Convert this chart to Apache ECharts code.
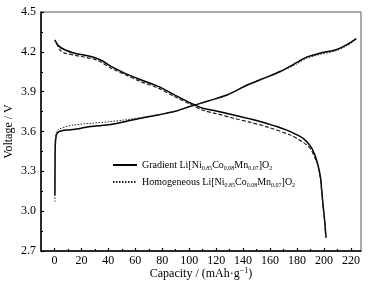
<!DOCTYPE html>
<html>
<head>
<meta charset="utf-8">
<script src="https://cdn.jsdelivr.net/npm/echarts@6/dist/echarts.min.js"></script>
<style>
  html, body { margin: 0; padding: 0; background: #fff; }
  #chart { width: 372px; height: 286px; }
</style>
</head>
<body>
<div id="chart"></div>
<script>
    // [capacity (mAh/g), voltage (V)]
    var gradientCharge = [
        [0.3, 3.12], [0.4, 3.3], [0.5, 3.45], [0.8, 3.53], [1.5, 3.575], [3, 3.598],
        [6, 3.607], [10, 3.612], [15, 3.617], [20, 3.625], [27, 3.637], [35, 3.645],
        [40, 3.65], [52, 3.674], [64, 3.70], [77, 3.725], [89, 3.75], [101, 3.79],
        [114, 3.83], [128, 3.875], [143, 3.95], [155, 4.0], [167, 4.05], [180, 4.12],
        [187, 4.16], [197, 4.19], [209, 4.216], [217, 4.254], [224, 4.30]
    ];
    var homogeneousCharge = [
        [0.3, 3.07], [0.4, 3.3], [0.5, 3.48], [0.8, 3.56], [1.5, 3.595], [3, 3.615],
        [8, 3.635], [15, 3.65], [27, 3.662], [40, 3.673], [52, 3.687], [64, 3.705],
        [77, 3.727], [89, 3.752], [101, 3.79], [114, 3.828], [128, 3.873], [143, 3.947],
        [155, 3.995], [167, 4.045], [180, 4.11], [187, 4.15], [197, 4.18], [209, 4.208],
        [217, 4.245], [224, 4.295]
    ];
    var gradientDischarge = [
        [0.2, 4.29], [3, 4.245], [7.6, 4.216], [15, 4.19], [27, 4.165], [35, 4.135],
        [42, 4.09], [52, 4.04], [64, 3.99], [77, 3.94], [89, 3.876], [101, 3.815],
        [110, 3.775], [120, 3.755], [133, 3.725], [145, 3.695], [157, 3.662], [172, 3.612],
        [180, 3.575], [185, 3.545], [190, 3.49], [193, 3.43], [195.5, 3.35], [197.5, 3.25],
        [198.5, 3.14], [199.5, 3.03], [200.7, 2.91], [201.5, 2.80]
    ];
    var homogeneousDischarge = [
        [1.5, 4.266], [4, 4.215], [7.6, 4.19], [20, 4.165], [32, 4.135], [42, 4.077],
        [52, 4.03], [64, 3.976], [77, 3.927], [89, 3.863], [101, 3.805], [110, 3.76],
        [120, 3.735], [133, 3.70], [145, 3.67], [157, 3.637], [175, 3.574], [182, 3.535],
        [187, 3.50], [190, 3.47], [192.5, 3.42], [195.3, 3.35], [197.3, 3.25], [198.4, 3.14],
        [199.4, 3.03], [200.6, 2.91], [201.4, 2.80]
    ];

    var xMajorTicks = [0, 20, 40, 60, 80, 100, 120, 140, 160, 180, 200, 220];
    var xMinorTicks = [10, 30, 50, 70, 90, 110, 130, 150, 170, 190, 210];

    var legendNames = {
        Gradient: 'Gradient Li[Ni{s|0.85}Co{s|0.08}Mn{s|0.07}]O{s|2}',
        Homogeneous: 'Homogeneous Li[Ni{s|0.85}Co{s|0.08}Mn{s|0.07}]O{s|2}'
    };

    var font = 'Liberation Serif';

    var option = {
        backgroundColor: '#fff',
        animation: false,
        textStyle: { fontFamily: font, color: '#000' },
        grid: {
            left: 41, right: 11, top: 12, bottom: 35,
            outerBoundsMode: 'none',
            show: true,
            borderColor: '#555',
            borderWidth: 1
        },
        legend: {
            orient: 'vertical',
            left: 112,
            top: 160,
            padding: 0,
            itemWidth: 24,
            itemHeight: 8,
            itemGap: 6,
            data: ['Gradient', 'Homogeneous'],
            itemStyle: { opacity: 0 },
            formatter: function (name) {
                return legendNames[name];
            },
            textStyle: {
                fontFamily: font,
                fontSize: 10,
                color: '#000',
                rich: {
                    s: { fontFamily: font, fontSize: 6, color: '#000', padding: [6, 0, 0, 0] }
                }
            }
        },
        xAxis: [{
            type: 'value',
            min: -10,
            max: 227.5,
            name: 'Capacity / (mAh·g{p|−1})',
            nameLocation: 'middle',
            nameGap: 16,
            nameMoveOverlap: false,
            nameTextStyle: {
                fontFamily: font, fontSize: 12, color: '#000',
                rich: { p: { fontFamily: font, fontSize: 8, color: '#000', padding: [0, 0, 6, 0] } }
            },
            axisLine: { show: true, onZero: false, lineStyle: { color: '#000', width: 1.5 } },
            axisTick: { show: true, inside: true, length: 3, customValues: xMajorTicks, lineStyle: { color: '#000', width: 1.2 } },
            axisLabel: { customValues: xMajorTicks, fontFamily: font, fontSize: 12, color: '#000', margin: 4 },
            splitLine: { show: false }
        }, {
            type: 'value',
            min: -10,
            max: 227.5,
            position: 'bottom',
            axisLine: { show: false },
            axisTick: { show: true, inside: true, length: 2, customValues: xMinorTicks, lineStyle: { color: '#000', width: 1.2 } },
            axisLabel: { show: false },
            splitLine: { show: false }
        }],
        yAxis: {
            type: 'value',
            min: 2.7,
            max: 4.5,
            interval: 0.3,
            name: 'Voltage / V',
            nameLocation: 'middle',
            nameGap: 26,
            nameMoveOverlap: false,
            nameTextStyle: { fontFamily: font, fontSize: 12, color: '#000' },
            axisLine: { show: true, onZero: false, lineStyle: { color: '#000', width: 1.5 } },
            axisTick: { inside: true, length: 3, lineStyle: { color: '#000', width: 1.2 } },
            minorTick: { show: true, splitNumber: 2, length: 2, lineStyle: { color: '#000', width: 1.2 } },
            axisLabel: {
                fontFamily: font, fontSize: 12, color: '#000', margin: 5,
                formatter: function (v) { return v.toFixed(1); }
            },
            splitLine: { show: false }
        },
        series: [{
            name: 'Gradient',
            type: 'line',
            data: gradientCharge,
            symbol: 'none',
            smooth: 0.3,
            lineStyle: { color: '#000', width: 1.5, type: 'solid' }
        }, {
            name: 'Homogeneous',
            type: 'line',
            data: homogeneousCharge,
            symbol: 'none',
            smooth: 0.3,
            lineStyle: { color: '#222', width: 1, type: [1.5, 1.5] }
        }, {
            name: 'Gradient',
            type: 'line',
            data: gradientDischarge,
            symbol: 'none',
            smooth: 0.3,
            lineStyle: { color: '#000', width: 1.5, type: 'solid' }
        }, {
            name: 'Homogeneous',
            type: 'line',
            data: homogeneousDischarge,
            symbol: 'none',
            smooth: 0.3,
            lineStyle: { color: '#222', width: 1.2, type: [4, 2] }
        }]
    };

    var myChart = echarts.init(document.getElementById('chart'));
    myChart.setOption(option);
</script>
</body>
</html>
